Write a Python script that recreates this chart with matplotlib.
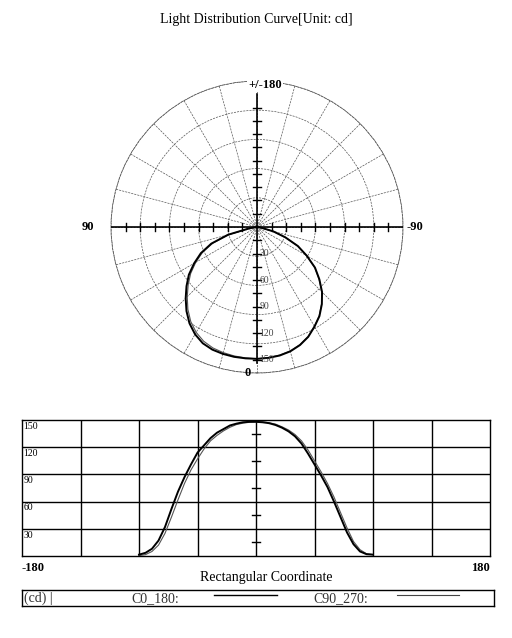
import numpy as np
import matplotlib
matplotlib.use("Agg")
import matplotlib.pyplot as plt

# rectangular coordinate chart: angle (deg) vs intensity (cd)
angles = [-90, -85, -80, -75, -70, -65, -60, -55, -50, -45, -40, -35, -30, -25, -20, -15, -10, -5,
          0, 5, 10, 15, 20, 25, 30, 35, 40, 45, 50, 55, 60, 65, 70, 75, 80, 85, 90]
c0_180 = [1.5, 3.5, 8, 17, 32, 52, 71, 87, 101, 114, 122, 130, 136, 140, 144, 146, 147.5, 148,
          148, 147.5, 146.5, 144.5, 141.5, 137.5, 132, 124, 113, 101, 89, 76, 60, 43, 26, 13, 5, 2, 1.5]
c90_270 = [0.5, 1.5, 5, 12, 25, 43, 62, 80, 95, 107, 118, 127, 133, 138, 142, 145, 146.5, 147.5,
           148, 148, 147, 145.5, 142.5, 139, 134, 127, 117, 105, 93, 80, 65, 48, 31, 16, 7, 2.5, 1.5]

# polar chart curves (positive angles on the left)
polar_angles = angles
polar_c0 = [0, 1, 5, 19, 34, 51, 65, 80, 92, 104, 114, 123, 130, 137, 142, 145.5, 147.5, 148.5,
            149, 149, 149, 148.5, 147.5, 145, 140, 133, 124, 114, 104, 94, 82, 70, 55, 34, 9, 1, 0]
polar_c90 = [0, 1, 5, 18.5, 33.5, 50.5, 64.5, 79.5, 91.5, 103.5, 113.5, 122.5, 129.5, 136.5, 141.5, 145, 147, 148,
             149, 148.5, 148, 147, 145.5, 142.5, 137.5, 130.5, 121.5, 111.5, 101.5, 91.5, 80, 68, 53, 32, 8, 1, 0]

rect_yticks = [30, 60, 90, 120, 150]
polar_labels = [30, 60, 90, 120, 150]

plt.rcParams['font.family'] = ["Liberation Serif", "DejaVu Serif"]

fig = plt.figure(figsize=(5.12, 6.38), dpi=100)
W, H = 512.0, 638.0

fig.text(0.5, 1 - 20 / H, "Light Distribution Curve[Unit: cd]", ha="center", va="center", fontsize=10)

# ---- polar plot ----
cx, cy, R = 257, 227, 146
rect = [(cx - R) / W, 1 - (cy + R) / H, 2 * R / W, 2 * R / H]
rmax = 165
pax = fig.add_axes(rect, projection="polar")
pax.set_theta_zero_location("S")
pax.set_theta_direction(-1)
pax.set_ylim(0, rmax)
pax.set_rgrids([33, 66, 99, 132, 165], labels=[""] * 5)
pax.set_thetagrids(np.arange(0, 360, 15), labels=[""] * 24)
pax.grid(True, color="#555555", lw=0.5, linestyle=(0, (3, 1.5)))
pax.spines["polar"].set_color("#555555")
pax.spines["polar"].set_linewidth(0.6)
pax.spines["polar"].set_linestyle((0, (3, 1.5)))
th = np.radians(polar_angles)
pax.plot(th, polar_c90, color="#555555", lw=0.8)
pax.plot(th, polar_c0, color="black", lw=1.4)

# overlay for the cross axes and their tick marks
cax = fig.add_axes(rect)
cax.set_xlim(-rmax, rmax)
cax.set_ylim(-rmax, rmax)
cax.axis("off")
cax.patch.set_alpha(0)
cax.plot([-rmax, rmax], [0, 0], color="black", lw=1.2)
cax.plot([0, 0], [-154, 150], color="black", lw=1.2)
hl = 4.5
for t in np.arange(16.5, 150, 16.5):
    for s in (-1, 1):
        cax.plot([s * t, s * t], [-hl, hl], color="black", lw=1.0)
for t in np.arange(15, 136, 15):
    cax.plot([-hl, hl], [t, t], color="black", lw=1.0)
for t in np.arange(15, 151, 15):
    cax.plot([-hl, hl], [-t, -t], color="black", lw=1.0)
for v in polar_labels:
    cax.text(3, -v, str(v), ha="left", va="center", fontsize=7, color="#444444")

fig.text((cx + 8) / W, 1 - 85 / H, "+/-180", ha="center", va="center", fontsize=9, fontweight="bold",
         bbox=dict(facecolor="white", edgecolor="none", pad=0.5))
fig.text((cx - 9) / W, 1 - 373 / H, "0", ha="center", va="center", fontsize=9, fontweight="bold")
fig.text(88 / W, 1 - cy / H, "90", ha="center", va="center", fontsize=9, fontweight="bold")
fig.text(415 / W, 1 - cy / H, "-90", ha="center", va="center", fontsize=9, fontweight="bold")

# ---- rectangular plot ----
rax = fig.add_axes([22 / W, 1 - 556 / H, 468 / W, 136 / H])
rax.set_xlim(-180, 180)
rax.set_ylim(0, 150)
rax.set_xticks([])
rax.set_yticks([])
for x in np.arange(-135, 136, 45):
    rax.axvline(x, color="black", lw=1.0)
for y in rect_yticks[:-1]:
    rax.axhline(y, color="black", lw=1.0)
for sp in rax.spines.values():
    sp.set_linewidth(1.0)
for y in [15, 45, 75, 105, 135]:
    rax.plot([-3, 3], [y, y], color="black", lw=1.0)
for y in rect_yticks:
    rax.text(-179, y - 2, str(y), ha="left", va="top", fontsize=7)
rax.plot(angles, c90_270, color="#555555", lw=0.8)
rax.plot(angles, c0_180, color="black", lw=1.4)

fig.text(22 / W, 1 - 568 / H, "-180", ha="left", va="center", fontsize=9, fontweight="bold")
fig.text(490 / W, 1 - 568 / H, "180", ha="right", va="center", fontsize=9, fontweight="bold")
fig.text(266 / W, 1 - 578 / H, "Rectangular Coordinate", ha="center", va="center", fontsize=10)

# ---- legend box ----
lax = fig.add_axes([22 / W, 1 - 606 / H, 472 / W, 16 / H])
lax.set_xlim(0, 472)
lax.set_ylim(0, 16)
lax.set_xticks([])
lax.set_yticks([])
for sp in lax.spines.values():
    sp.set_linewidth(1.0)
lax.text(2, 7.5, "(cd) |", ha="left", va="center", fontsize=10, color="#333333")
lax.text(109, 7.5, "C0_180:", ha="left", va="center", fontsize=10, color="#333333")
lax.plot([192, 255], [11, 11], color="black", lw=1.0)
lax.text(291, 7.5, "C90_270:", ha="left", va="center", fontsize=10, color="#333333")
lax.plot([375, 437], [11, 11], color="#444444", lw=0.8)

fig.savefig("out.png", dpi=100)
